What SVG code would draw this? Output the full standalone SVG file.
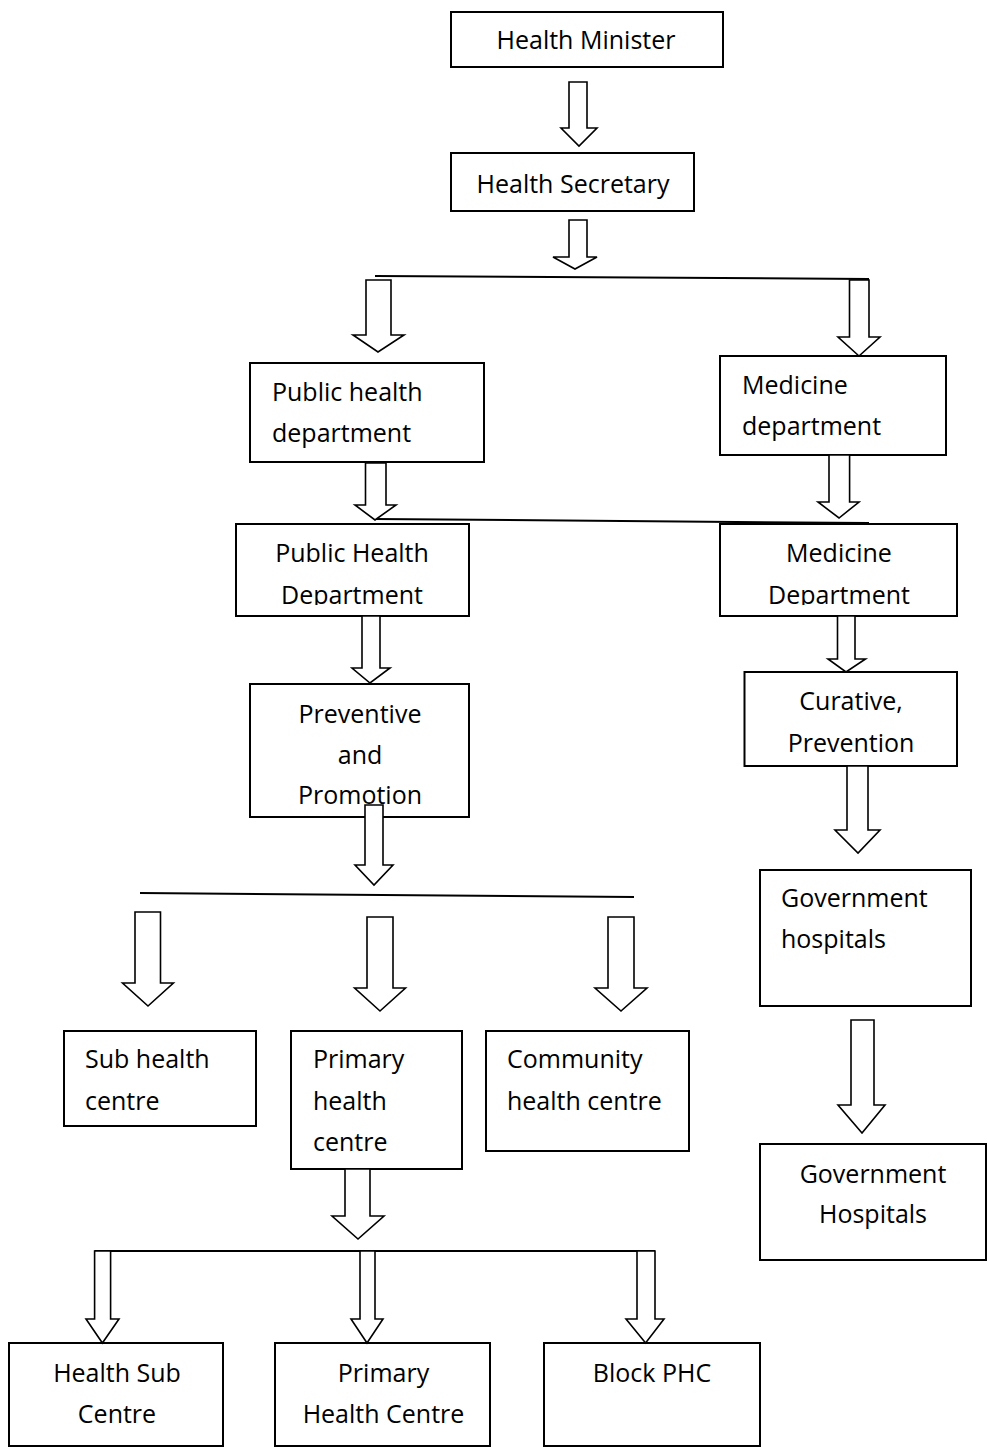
<svg xmlns="http://www.w3.org/2000/svg" width="989" height="1447" viewBox="0 0 989 1447">
<style>
.box{fill:#fff;stroke:#000;stroke-width:2}
.arr{fill:#fff;stroke:#000;stroke-width:1.6;stroke-linejoin:miter}
.ln{stroke:#000;stroke-width:2;fill:none}
text{font-family:"Open Sans","Noto Sans","DejaVu Sans",sans-serif;font-size:25px;fill:#000}
.c{text-anchor:middle}
</style>
<defs>
<clipPath id="clipL"><rect x="236" y="524" width="233" height="81"/></clipPath>
<clipPath id="clipR"><rect x="720" y="524" width="237" height="81"/></clipPath>
</defs>
<rect width="989" height="1447" fill="#fff"/>

<g id="n-health-minister"><rect class="box" x="451" y="12" width="272" height="55"/><text class="c" x="586" y="49">Health Minister</text></g>
<g id="n-health-secretary"><rect class="box" x="451" y="153" width="243" height="58"/><text class="c" x="573" y="193">Health Secretary</text></g>
<g id="n-public-health-dept"><rect class="box" x="250" y="363" width="234" height="99"/><text x="272" y="401">Public health</text><text x="272" y="442">department</text></g>
<g id="n-medicine-dept"><rect class="box" x="720" y="356" width="226" height="99"/><text x="742" y="394">Medicine</text><text x="742" y="435">department</text></g>
<g id="n-public-health-dept2"><rect class="box" x="236" y="524" width="233" height="92"/><g clip-path="url(#clipL)"><text class="c" x="352" y="562">Public Health</text><text class="c" x="352" y="604">Department</text></g></g>
<g id="n-medicine-dept2"><rect class="box" x="720" y="524" width="237" height="92"/><g clip-path="url(#clipR)"><text class="c" x="839" y="562">Medicine</text><text class="c" x="839" y="604">Department</text></g></g>
<g id="n-preventive"><rect class="box" x="250" y="684" width="219" height="133"/><text class="c" x="360" y="723">Preventive</text><text class="c" x="360" y="764">and</text><text class="c" x="360" y="804">Promotion</text></g>
<g id="n-curative"><rect class="box" x="744.5" y="672" width="212.5" height="94"/><text class="c" x="851" y="710">Curative,</text><text class="c" x="851" y="752">Prevention</text></g>
<g id="n-govt-hospitals1"><rect class="box" x="760" y="870" width="211" height="136"/><text x="781" y="907">Government</text><text x="781" y="948">hospitals</text></g>
<g id="n-govt-hospitals2"><rect class="box" x="760" y="1144" width="226" height="116"/><text class="c" x="873" y="1183">Government</text><text class="c" x="873" y="1223">Hospitals</text></g>
<g id="n-sub-health-centre"><rect class="box" x="64" y="1031" width="192" height="95"/><text x="85" y="1068">Sub health</text><text x="85" y="1110">centre</text></g>
<g id="n-primary-health-centre"><rect class="box" x="291" y="1031" width="171" height="138"/><text x="313" y="1068">Primary</text><text x="313" y="1110">health</text><text x="313" y="1151">centre</text></g>
<g id="n-community-health-centre"><rect class="box" x="486" y="1031" width="203" height="120"/><text x="507" y="1068">Community</text><text x="507" y="1110">health centre</text></g>
<g id="n-health-sub-centre"><rect class="box" x="9" y="1343" width="214" height="103"/><text class="c" x="117" y="1382">Health Sub</text><text class="c" x="117" y="1423">Centre</text></g>
<g id="n-primary-health-centre2"><rect class="box" x="275" y="1343" width="215" height="103"/><text class="c" x="383.5" y="1382">Primary</text><text class="c" x="383.5" y="1423">Health Centre</text></g>
<g id="n-block-phc"><rect class="box" x="544" y="1343" width="216" height="103"/><text class="c" x="652" y="1382">Block PHC</text></g>

<g id="connectors">
<line class="ln" x1="375" y1="276" x2="869" y2="279"/>
<line class="ln" x1="375" y1="519" x2="869" y2="523"/>
<line class="ln" x1="140" y1="893" x2="634" y2="897"/>
<line class="ln" x1="94.6" y1="1251" x2="655" y2="1251"/>
<polygon class="arr" points="569,82 587,82 587,128 597,128 579,146 561,128 569,128"/>
<polygon class="arr" points="569,220 587,220 587,257 597,257 575,269 553,257 569,257"/>
<polygon class="arr" points="366,280 391,280 391,335 404,335 378,352 353,335 366,335"/>
<polygon class="arr" points="849.5,280 869,280 869,337 880,337 859,356 838,337 849.5,337"/>
<polygon class="arr" points="365.5,463 386,463 386,505 396,505 375,520 355,505 365.5,505"/>
<polygon class="arr" points="829,455 849.6,455 849.6,502 859,502 839,518 818,502 829,502"/>
<polygon class="arr" points="362,616 380,616 380,668 390,668 370,683 352,668 362,668"/>
<polygon class="arr" points="365,805 383,805 383,865 393,865 374,885 355,865 365,865"/>
<polygon class="arr" points="837.5,616 855,616 855,659 865.5,659 846,672 828,659 837.5,659"/>
<polygon class="arr" points="847,766 868,766 868,830 880,830 858,853 835,830 847,830"/>
<polygon class="arr" points="851,1020 874,1020 874,1105 885,1105 862,1133 838,1105 851,1105"/>
<polygon class="arr" points="135,912 160.5,912 160.5,983 173.4,983 148,1006 122.5,983 135,983"/>
<polygon class="arr" points="367,917 393,917 393,988 405.5,988 380,1011 354.6,988 367,988"/>
<polygon class="arr" points="608,917 634,917 634,988 647,988 621,1011 595,988 608,988"/>
<polygon class="arr" points="345,1169 370,1169 370,1216 384,1216 358,1239 332,1216 345,1216"/>
<polygon class="arr" points="94.6,1251 110.6,1251 110.6,1319 119,1319 102.4,1343 86,1319 94.6,1319"/>
<polygon class="arr" points="360,1251 375,1251 375,1319 383,1319 367,1343 351,1319 360,1319"/>
<polygon class="arr" points="637,1251 655,1251 655,1319 664,1319 645.6,1343 626,1319 637,1319"/>
</g>
</svg>
